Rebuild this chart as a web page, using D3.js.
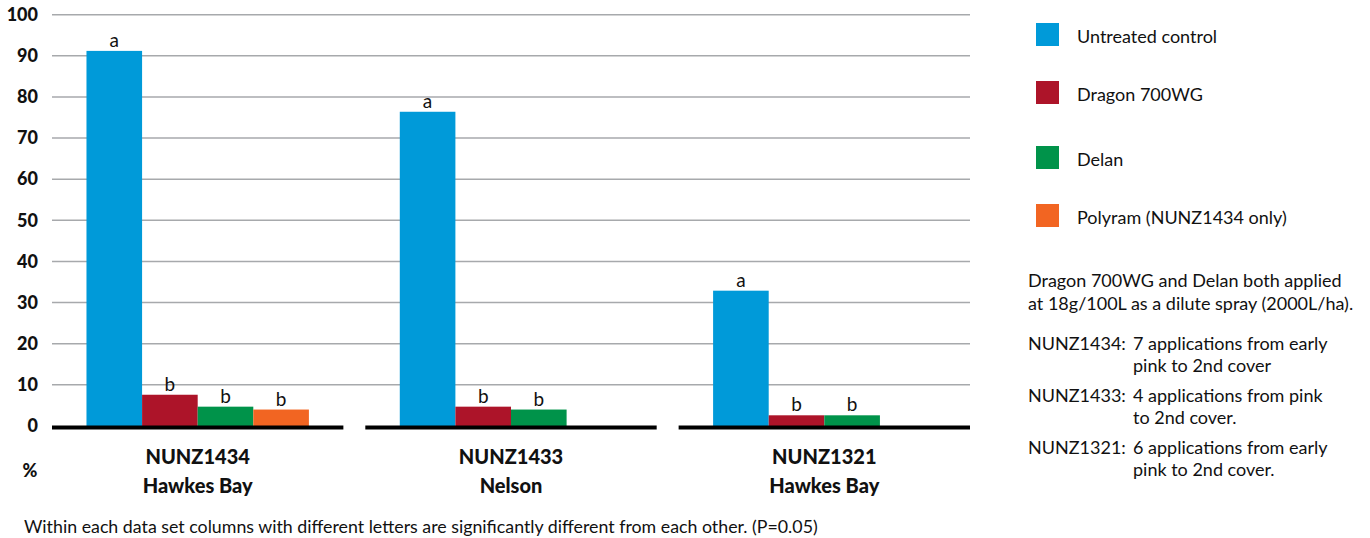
<!DOCTYPE html>
<html>
<head>
<meta charset="utf-8">
<script src="https://cdn.jsdelivr.net/npm/d3@7"></script>
<style>
  body { margin: 0; background: #fff; }
  svg { font-family: "Lato", "Open Sans", sans-serif; }
</style>
</head>
<body>
<svg id="chart" width="1370" height="538"></svg>
<script>
// Data
const groups = ["NUNZ1434", "NUNZ1433", "NUNZ1321"];
const regions = ["Hawkes Bay", "Nelson", "Hawkes Bay"];
const series = ["Untreated control", "Dragon 700WG", "Delan", "Polyram (NUNZ1434 only)"];
const colors = ["#009ad9", "#ad1429", "#00934a", "#f26522"];
// values per series, one per group (null = not tested)
const untreated = [91.2, 76.4, 32.9];
const dragon = [7.6, 4.7, 2.6];
const delan = [4.7, 4.0, 2.6];
const polyram = [4.0, null, null];
const letters = [["a", "a", "a"], ["b", "b", "b"], ["b", "b", "b"], ["b", null, null]];
const yTicks = [0, 10, 20, 30, 40, 50, 60, 70, 80, 90, 100];
const rateNote = ["Dragon 700WG and Delan both applied", "at 18g/100L as a dilute spray (2000L/ha)."];
const trials = [
  ["NUNZ1434:", "7 applications from early", "pink to 2nd cover"],
  ["NUNZ1433:", "4 applications from pink", "to 2nd cover."],
  ["NUNZ1321:", "6 applications from early", "pink to 2nd cover."]
];
const footnote = "Within each data set columns with different letters are significantly different from each other. (P=0.05)";

const values = [untreated, dragon, delan, polyram];
const data = [];
series.forEach((s, i) => {
  groups.forEach((g, j) => {
    if (values[i][j] != null) data.push({ series: s, group: g, value: values[i][j], letter: letters[i][j], color: colors[i] });
  });
});

const svg = d3.select("#chart");

// Scales
const x0 = d3.scaleBand().domain(groups).range([52, 970]).paddingInner(0.07);
const x1 = d3.scaleBand().domain(series).range([0, x0.bandwidth()]).paddingOuter(0.62);
const y = d3.scaleLinear().domain([0, 100]).range([426, 14.7]);

// Gridlines
svg.append("g")
  .selectAll("line")
  .data(yTicks.filter(d => d > 0))
  .enter()
  .append("line")
  .attr("x1", 52).attr("x2", 970)
  .attr("y1", d => y(d)).attr("y2", d => y(d))
  .attr("stroke", "#a7a9ac")
  .attr("stroke-width", 1.5);

// Y axis labels
const yAxis = svg.append("g")
  .attr("transform", "translate(38,0)")
  .call(d3.axisLeft(y).tickValues(yTicks).tickSize(0).tickPadding(0));
yAxis.select(".domain").remove();
yAxis.selectAll("text")
  .attr("font-family", "Lato, sans-serif")
  .attr("font-size", "18px")
  .attr("font-weight", "900")
  .attr("fill", "#111");

// Bars
const bars = svg.append("g")
  .selectAll("g")
  .data(data)
  .enter()
  .append("g");

bars.append("rect")
  .attr("x", d => x0(d.group) + x1(d.series))
  .attr("y", d => y(d.value))
  .attr("width", x1.bandwidth())
  .attr("height", d => y(0) - y(d.value))
  .attr("fill", d => d.color);

bars.append("text")
  .attr("x", d => x0(d.group) + x1(d.series) + x1.bandwidth() / 2)
  .attr("y", d => y(d.value) - 4)
  .attr("text-anchor", "middle")
  .attr("font-size", "19px")
  .attr("fill", "#111")
  .text(d => d.letter);

// Baseline segments per group
svg.append("g")
  .selectAll("line")
  .data(groups)
  .enter()
  .append("line")
  .attr("x1", d => x0(d)).attr("x2", d => x0(d) + x0.bandwidth())
  .attr("y1", y(0) + 1.5).attr("y2", y(0) + 1.5)
  .attr("stroke", "#000")
  .attr("stroke-width", 4);

// Group labels
const gl = svg.append("g")
  .selectAll("text")
  .data(groups)
  .enter()
  .append("text")
  .attr("x", d => x0(d) + x0.bandwidth() / 2)
  .attr("text-anchor", "middle")
  .attr("font-size", "20px")
  .attr("font-weight", "900")
  .attr("fill", "#111");
gl.append("tspan").attr("x", d => x0(d) + x0.bandwidth() / 2).attr("y", 464).text(d => d);
gl.append("tspan").attr("x", d => x0(d) + x0.bandwidth() / 2).attr("y", 493).text((d, i) => regions[i]);

// % label
svg.append("text")
  .attr("x", 30).attr("y", 477)
  .attr("text-anchor", "middle")
  .attr("font-size", "18px")
  .attr("font-weight", "900")
  .attr("fill", "#111")
  .text("%");

// Footnote
svg.append("text")
  .attr("x", 24).attr("y", 533)
  .attr("font-size", "17.8px")
  .attr("fill", "#111")
  .text(footnote);

// Legend
const legendY = [23, 81, 146, 204];
const legend = svg.append("g")
  .selectAll("g")
  .data(series)
  .enter()
  .append("g")
  .attr("transform", (d, i) => `translate(1036, ${legendY[i]})`);
legend.append("rect")
  .attr("width", 23).attr("height", 23)
  .attr("fill", (d, i) => colors[i]);
legend.append("text")
  .attr("x", 41).attr("y", 20)
  .attr("font-size", "18px")
  .attr("fill", "#111")
  .text(d => d);

// Notes
const noteG = svg.append("g").attr("font-size", "18px").attr("fill", "#111");
rateNote.forEach((t, i) => {
  noteG.append("text").attr("x", 1028).attr("y", 287 + i * 23).text(t);
});
trials.forEach((t, i) => {
  const yy = 350 + i * 52;
  noteG.append("text").attr("x", 1028).attr("y", yy).text(t[0]);
  noteG.append("text").attr("x", 1133).attr("y", yy).text(t[1]);
  noteG.append("text").attr("x", 1133).attr("y", yy + 22).text(t[2]);
});
</script>
</body>
</html>
